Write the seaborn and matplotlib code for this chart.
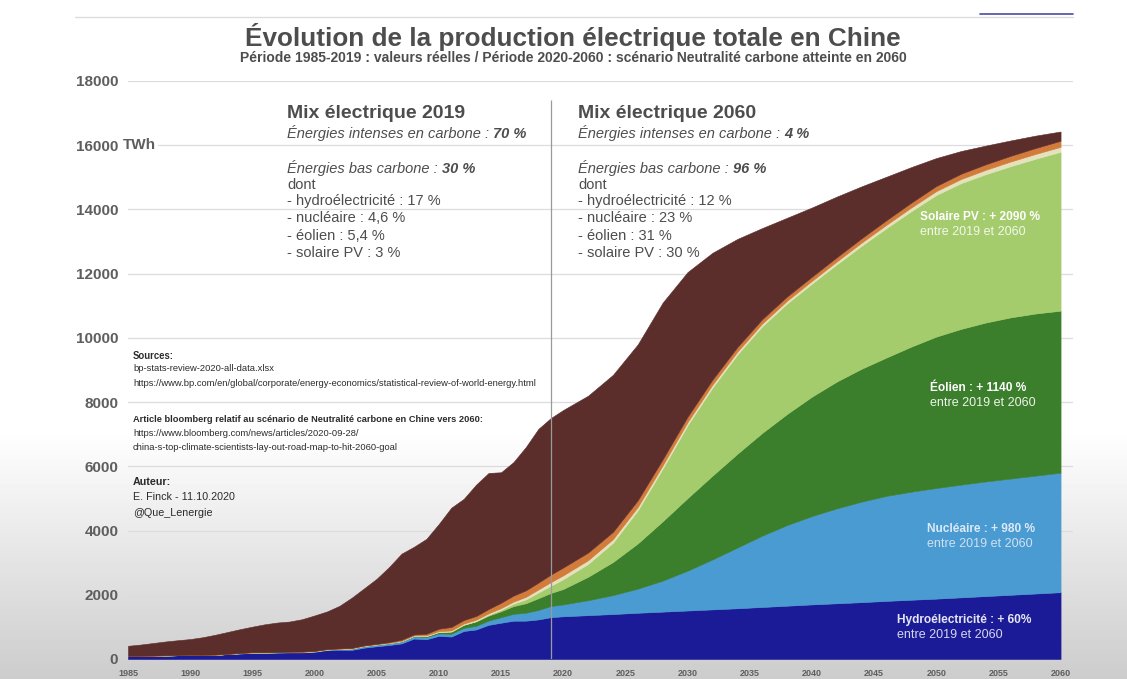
import numpy as np
import matplotlib
matplotlib.use("Agg")
import matplotlib.pyplot as plt
from matplotlib import font_manager
from matplotlib.lines import Line2D
import seaborn as sns

# years: real values 1985-2019, scenario 2020-2060 (read every 2 years)
years = list(range(1985, 2020)) + list(range(2020, 2061, 2))

# TWh per source (stack order bottom -> top)
hydro = [92, 95, 100, 109, 118, 127, 125, 131, 152, 167, 191, 188, 196, 204, 204, 222, 277, 288,
         284, 354, 397, 436, 486, 637, 616, 722, 699, 872, 920, 1064, 1130, 1193, 1194, 1232, 1302,
         1330, 1365, 1400, 1440, 1475, 1510, 1545, 1580, 1620, 1660, 1700, 1735, 1770, 1810, 1845,
         1880, 1920, 1960, 2000, 2040, 2080]
nuclear = [0, 0, 0, 0, 0, 0, 0.5, 0.5, 2.5, 14, 13, 14, 14, 14, 15, 17, 17, 25,
           43, 50, 53, 55, 62, 68, 70, 74, 86, 97, 112, 133, 171, 213, 248, 295, 348,
           370, 465, 590, 750, 965, 1240, 1555, 1890, 2220, 2510, 2750, 2955, 3130, 3270, 3365,
           3445, 3510, 3570, 3620, 3670, 3722]
wind = [0, 0, 0, 0, 0, 0, 0, 0, 0, 0, 0.1, 0.2, 0.3, 0.4, 0.5, 0.6, 0.7, 0.9,
        1.3, 1.3, 2, 3.7, 5.7, 13, 28, 45, 70, 96, 141, 156, 186, 241, 295, 366, 406,
        480, 730, 1030, 1410, 1850, 2260, 2610, 2920, 3200, 3460, 3720, 3950, 4140, 4310, 4520,
        4715, 4850, 4950, 5020, 5050, 5045]
solar = [0] * 24 + [0.3, 0.7, 2.6, 3.6, 8.4, 23.5, 45, 75, 118, 177, 224,
                    305, 400, 600, 1030, 1640, 2270, 2740, 3090, 3320, 3440, 3520, 3650, 3830,
                    4030, 4220, 4410, 4540, 4620, 4710, 4820, 4947]
other_ren = [1] * 14 + [2, 2.5, 3, 3.5, 4, 5, 5.5, 8, 10, 15, 21, 25, 32, 35, 42, 47, 53, 65, 81, 94, 112,
                        120, 116, 112, 106, 100, 95, 91, 87, 85, 85, 85, 90, 97, 104, 112, 120,
                        128, 136, 144, 150, 155]
gas = [5] * 10 + [6, 7, 8, 9, 10, 11, 12, 13, 14, 15, 16, 22, 37, 31, 51, 77, 108, 110, 116, 133,
                  167, 188, 203, 215, 236,
                  245, 240, 228, 210, 190, 170, 158, 146, 138, 133, 130, 132, 137, 144, 152, 160,
                  166, 172, 178, 184, 190]
coal_oil = [313, 348, 391, 430, 461, 488, 546, 616, 680, 741, 796, 871, 916, 939, 1008, 1103, 1171,
            1324, 1565, 1779, 2026, 2341, 2681, 2732, 2956, 3263, 3715, 3774, 4093, 4238, 4063,
            4158, 4465, 4787, 4875,
            4905, 4884, 4890, 4854, 4880, 4505, 3951, 3367, 2837, 2452, 2155, 1888, 1616, 1352,
            1106, 870, 706, 582, 478, 386, 288]

colors = ["#1b1b98", "#4b9bd3", "#3b7e2c", "#a5cc6c", "#e4e2bd", "#d27b3b", "#5b2e2c"]

mix_2019 = ["- hydroélectricité : 17 %", "- nucléaire : 4,6 %", "- éolien : 5,4 %", "- solaire PV : 3 %"]
mix_2060 = ["- hydroélectricité : 12 %", "- nucléaire : 23 %", "- éolien : 31 %", "- solaire PV : 30 %"]

sns.set_theme(style="white")
plt.rcParams['font.family'] = ['Liberation Sans', 'DejaVu Sans']
names = {f.name for f in font_manager.fontManager.ttflist}
narrow = ['Liberation Sans Narrow', 'Liberation Sans'] if 'Liberation Sans Narrow' in names else ['Liberation Sans']
nscale = 1.0 if 'Liberation Sans Narrow' in names else 0.82

W, H = 1127, 679
def fx(x):
    return x / W
def fy(y):
    return 1 - y / H

fig = plt.figure(figsize=(11.27, 6.79), dpi=100)

# grey shading at the bottom of the screenshot
bg = fig.add_axes([0, 0, 1, 1], zorder=-10)
rows = np.arange(H)
shade = np.where(rows < 430, 1.0, 1.0 - 0.2 * (rows - 430) / (H - 430)).reshape(-1, 1)
bg.imshow(shade, aspect='auto', cmap='gray', vmin=0, vmax=1, extent=[0, 1, 0, 1])
bg.axis('off')

ax = fig.add_axes([fx(128), fy(659), fx(1073) - fx(128), (659 - 81) / H])
ax.set_facecolor('none')

polys = ax.stackplot(years, hydro, nuclear, wind, solar, other_ren, gas, coal_oil,
                     colors=colors, zorder=2)
for p, c in zip(polys, colors):
    p.set_edgecolor(c)
    p.set_linewidth(0.4)

ax.vlines(2019, 0, 17400, color='#9a9a9a', lw=0.9, zorder=3)

ax.set_xlim(1985, 2061)
ax.set_ylim(0, 18000)
ax.set_yticks(range(0, 18001, 2000))
ax.set_xticks(range(1985, 2061, 5))
ax.grid(axis='y', color='#dcdcdc', lw=0.9)
ax.set_axisbelow(True)
for s in ax.spines.values():
    s.set_visible(False)
ax.tick_params(axis='y', length=0, pad=7, labelsize=11, labelcolor='#5e5e5e')
ax.tick_params(axis='x', length=0, pad=7, labelsize=6.5, labelcolor='#5e5e5e')
for lab in ax.get_yticklabels() + ax.get_xticklabels():
    lab.set_fontweight('bold')

fig.text(fx(123), fy(145), "TWh", fontsize=11, weight='bold', color='#5e5e5e', va='center',
         bbox=dict(facecolor='white', edgecolor='none', pad=1.5))

# header
txt = '#4d4d4d'
fig.add_artist(Line2D([fx(75), fx(1073)], [fy(17), fy(17)], color='#dddddd', lw=1))
fig.add_artist(Line2D([fx(980), fx(1073)], [fy(14), fy(14)], color='#4a4aa8', lw=1.2))
fig.text(fx(573), fy(37), "Évolution de la production électrique totale en Chine", ha='center',
         va='center', fontsize=18.8, weight='bold', color=txt)
fig.text(fx(573), fy(58), "Période 1985-2019 : valeurs réelles / Période 2020-2060 : scénario "
         "Neutralité carbone atteinte en 2060", ha='center', va='center', fontsize=10,
         weight='bold', color=txt)


def lead(x, y, s, b):
    t = fig.text(fx(x), fy(y), s, fontsize=10.5, style='italic', color=txt, va='center')
    ax.annotate(b, xy=(1, 0), xycoords=t, xytext=(3, 0), textcoords='offset points',
                fontsize=10.5, style='italic', weight='bold', color=txt, va='bottom',
                annotation_clip=False)


def mix_block(x, title, carb, low, lines):
    fig.text(fx(x), fy(114), title, fontsize=14, weight='bold', color=txt, va='center')
    lead(x, 133, "Énergies intenses en carbone :", carb)
    lead(x, 168, "Énergies bas carbone :", low)
    fig.text(fx(x), fy(185), "dont", fontsize=10.5, color=txt, va='center')
    for i, s in enumerate(lines):
        fig.text(fx(x), fy(201 + 17.3 * i), s, fontsize=10.5, color=txt, va='center')


mix_block(287, "Mix électrique 2019", "70 %", "30 %", mix_2019)
mix_block(578, "Mix électrique 2060", "4 %", "96 %", mix_2060)

# sources
src = '#2b2b2b'
def note(y, s, size, bold=False):
    fig.text(fx(133), fy(y), s, fontsize=size * nscale, family=narrow, color=src, va='center',
             weight='bold' if bold else 'normal')

note(356, "Sources:", 8.4, True)
note(369, "bp-stats-review-2020-all-data.xlsx", 8.2)
note(383, "https://www.bp.com/en/global/corporate/energy-economics/statistical-review-of-world-energy.html", 8.2)
note(420, "Article bloomberg relatif au scénario de Neutralité carbone en Chine vers 2060:", 8.1, True)
note(434, "https://www.bloomberg.com/news/articles/2020-09-28/", 8.2)
note(447, "china-s-top-climate-scientists-lay-out-road-map-to-hit-2060-goal", 8.2)
note(482, "Auteur:", 9.5, True)
note(497, "E. Finck - 11.10.2020", 9.5)
note(513, "@Que_Lenergie", 9.5)

# labels on the areas
def area_label(x, y, head, col, col2):
    fig.text(fx(x), fy(y), head, fontsize=8.6, weight='bold', color=col, va='center')
    fig.text(fx(x), fy(y + 15), "entre 2019 et 2060", fontsize=9, color=col2, va='center')

area_label(920, 217, "Solaire PV : + 2090 %", 'white', '#f3f7ec')
area_label(930, 388, "Éolien : + 1140 %", 'white', '#eef4ea')
area_label(927, 529, "Nucléaire : + 980 %", '#dbe9f5', '#cfe1ef')
area_label(897, 620, "Hydroélectricité : + 60%", '#e6e6f2', '#d6d6ea')

fig.savefig("out.png", dpi=100)
